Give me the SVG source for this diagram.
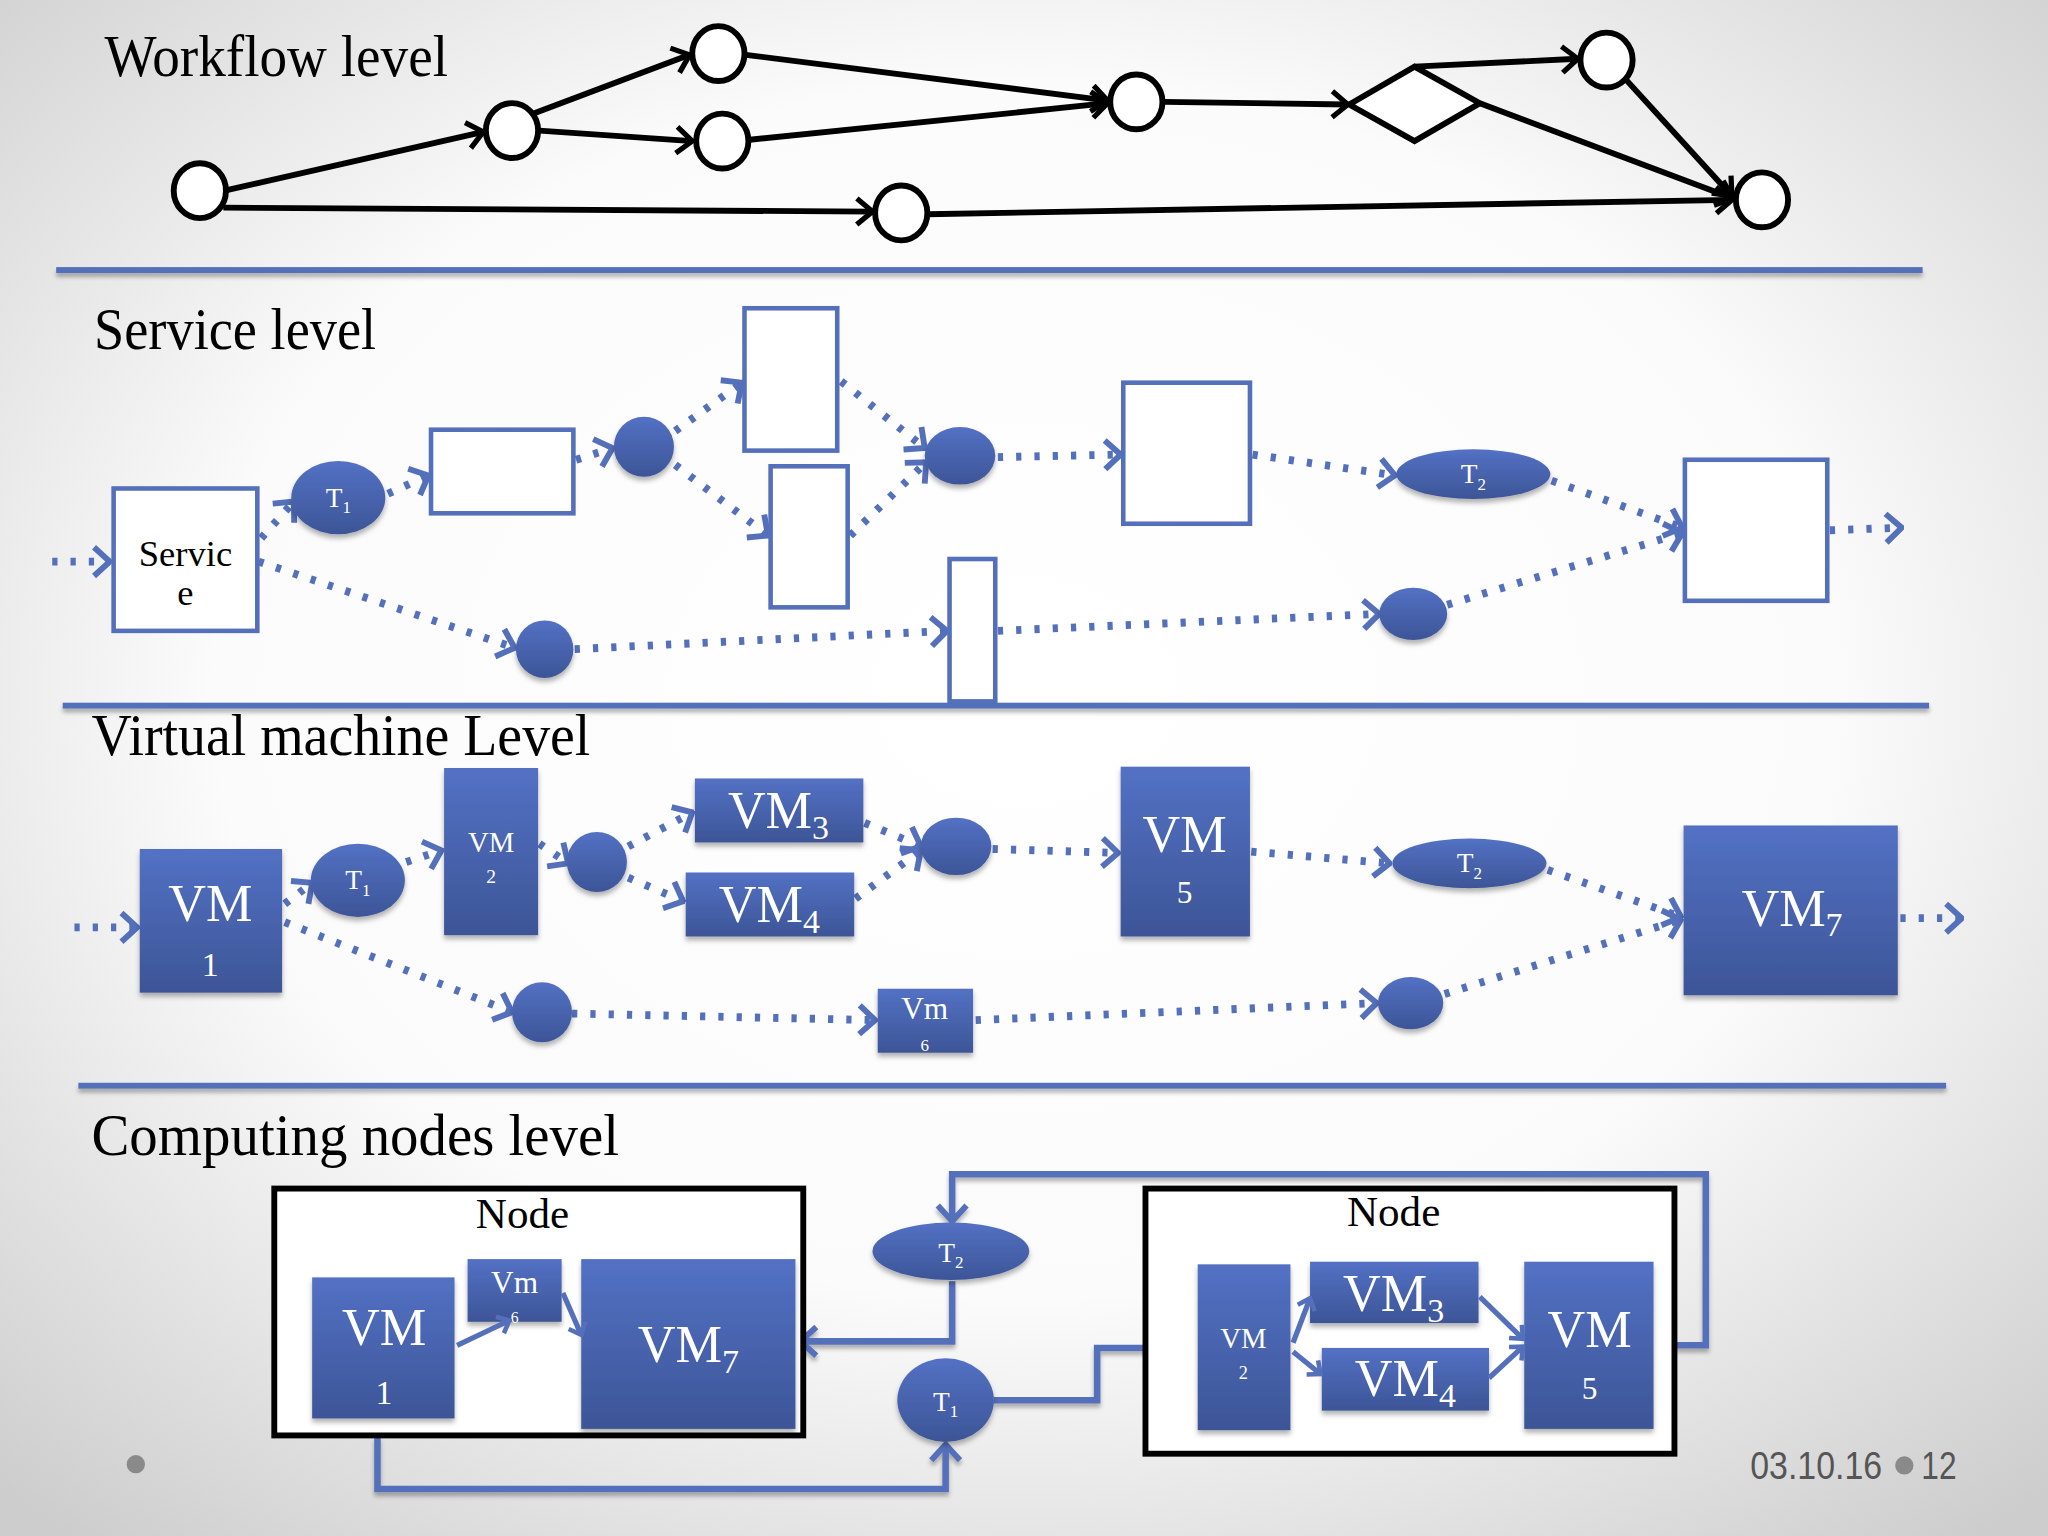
<svg xmlns="http://www.w3.org/2000/svg" width="2048" height="1536" viewBox="0 0 2048 1536">
<defs>
<radialGradient id="bg" cx="50%" cy="45%" r="72%">
<stop offset="0" stop-color="#ffffff"/>
<stop offset="0.55" stop-color="#fbfbfb"/>
<stop offset="1" stop-color="#cdcdcd"/>
</radialGradient>
<linearGradient id="bf" x1="0" y1="0" x2="0" y2="1">
<stop offset="0" stop-color="#5371C4"/>
<stop offset="1" stop-color="#3D5597"/>
</linearGradient>
<filter id="sh" x="-20%" y="-20%" width="140%" height="150%">
<feDropShadow dx="0" dy="3" stdDeviation="2" flood-color="#000" flood-opacity="0.3"/>
</filter>
<filter id="shl" filterUnits="userSpaceOnUse" x="0" y="0" width="1600" height="1200">
<feDropShadow dx="0" dy="3" stdDeviation="1.5" flood-color="#000" flood-opacity="0.3"/>
</filter>
<marker id="ab" viewBox="0 0 16 24" refX="14" refY="12" markerWidth="16" markerHeight="24" markerUnits="userSpaceOnUse" orient="auto">
<path d="M2,2 L14,12 L2,22" fill="none" stroke="#000" stroke-width="4"/>
</marker>
<marker id="ad" viewBox="0 0 16 26" refX="14" refY="13" markerWidth="16" markerHeight="26" markerUnits="userSpaceOnUse" orient="auto">
<path d="M2,2 L14,13 L2,24" fill="none" stroke="#5470BA" stroke-width="4.5"/>
</marker>
<marker id="as" viewBox="0 0 16 26" refX="14" refY="13" markerWidth="16" markerHeight="26" markerUnits="userSpaceOnUse" orient="auto">
<path d="M2,2 L14,13 L2,24" fill="none" stroke="#5470BA" stroke-width="4.5"/>
</marker>
<marker id="asm" viewBox="0 0 12 18" refX="10" refY="9" markerWidth="12" markerHeight="18" markerUnits="userSpaceOnUse" orient="auto">
<path d="M2,2 L10,9 L2,16" fill="none" stroke="#5470BA" stroke-width="3.5"/>
</marker>
<style>
.title{font-family:"Liberation Serif","Times New Roman",serif;font-size:46px;fill:#000}
.wn{fill:#fff;stroke:#000;stroke-width:4.5}
.we{fill:none;stroke:#000;stroke-width:4.5;marker-end:url(#ab)}
.sb{fill:#fff;stroke:#5470BA;stroke-width:3.5}
.bn{fill:url(#bf);filter:url(#sh)}
.dl{fill:none;stroke:#5470BA;stroke-width:6;stroke-dasharray:4 10;marker-end:url(#ad)}
.sl{fill:none;stroke:#5470BA;stroke-width:5;marker-end:url(#as);filter:url(#shl)}
.sm{fill:none;stroke:#5470BA;stroke-width:4;marker-end:url(#asm)}
.sep{fill:#5470BA;filter:url(#shl)}
.wt{font-family:"Liberation Serif","Times New Roman",serif;fill:#fff;text-anchor:middle}
.bt{font-family:"Liberation Serif","Times New Roman",serif;fill:#000;text-anchor:middle}
.nb{fill:#fff;stroke:#000;stroke-width:4.5}
.ft{font-family:"Liberation Sans",Arial,sans-serif;font-size:30px;fill:#555}
</style>
</defs>
<rect x="0" y="0" width="2048" height="1536" fill="url(#bg)"/>
<g transform="scale(1.306122)">
<g id="separators">
<rect class="sep" x="43" y="204.5" width="1429" height="4.5"/>
<rect class="sep" x="48" y="538" width="1429" height="4.5"/>
<rect class="sep" x="60" y="829" width="1430" height="4.5"/>
</g>
<g id="titles">
<text class="title" x="80" y="58" textLength="263" lengthAdjust="spacingAndGlyphs">Workflow level</text>
<text class="title" x="72" y="267" textLength="216" lengthAdjust="spacingAndGlyphs">Service level</text>
<text class="title" x="70" y="578" textLength="382" lengthAdjust="spacingAndGlyphs">Virtual machine Level</text>
<text class="title" x="70" y="884" textLength="404" lengthAdjust="spacingAndGlyphs">Computing nodes level</text>
</g>
<g id="connectors">
<path class="we" d="M172,146 L370,101"/>
<path class="we" d="M171,159 L668,162"/>
<path class="we" d="M408,87 L528,42"/>
<path class="we" d="M413,100 L530,108"/>
<path class="we" d="M571,42 L848,77"/>
<path class="we" d="M574,107 L848,79"/>
<path class="we" d="M891,78 L1032,80"/>
<path class="we" d="M1083,51 L1208,45"/>
<path class="we" d="M1133,79 L1327,152"/>
<path class="we" d="M1244,60 L1326,150"/>
<path class="we" d="M710,164 L1326,153"/>
<path class="dl" d="M40,430 L84,430"/>
<path class="dl" d="M200,412 L225,384"/>
<path class="dl" d="M297,378 L328,364"/>
<path class="dl" d="M441,352 L469,343"/>
<path class="dl" d="M517,330 L568,293"/>
<path class="dl" d="M517,356 L588,410"/>
<path class="dl" d="M644,292 L708,343"/>
<path class="dl" d="M651,410 L709,354"/>
<path class="dl" d="M764,350 L858,348"/>
<path class="dl" d="M959,348 L1068,364"/>
<path class="dl" d="M1188,368 L1288,404"/>
<path class="dl" d="M1401,406 L1456,404"/>
<path class="dl" d="M198,430 L394,496"/>
<path class="dl" d="M440,497 L725,483"/>
<path class="dl" d="M764,483 L1056,470"/>
<path class="dl" d="M1108,463 L1288,408"/>
<path class="dl" d="M57,710 L105,710"/>
<path class="dl" d="M218,692 L239,676"/>
<path class="dl" d="M311,660 L338,651"/>
<path class="dl" d="M413,646 L435,661"/>
<path class="dl" d="M481,648 L530,622"/>
<path class="dl" d="M481,672 L523,690"/>
<path class="dl" d="M662,630 L705,648"/>
<path class="dl" d="M655,688 L705,651"/>
<path class="dl" d="M760,650 L856,653"/>
<path class="dl" d="M958,652 L1064,661"/>
<path class="dl" d="M1185,666 L1287,702"/>
<path class="dl" d="M1455,703 L1502,703"/>
<path class="dl" d="M218,706 L392,775"/>
<path class="dl" d="M438,776 L670,781"/>
<path class="dl" d="M747,781 L1054,768"/>
<path class="dl" d="M1106,761 L1287,704"/>
<path class="sl" d="M289,1100 L289,1140 L724,1140 L724,1106"/>
<path class="sl" d="M761,1072 L840,1072 L840,1032 L915,1032"/>
<path class="sl" d="M1266,1030 L1306,1030 L1306,899 L729,899 L729,935"/>
<path class="sl" d="M729,981 L729,1027 L613,1027"/>
</g>
<g id="wf-a"><ellipse class="wn" cx="153" cy="146" rx="20" ry="21"/></g>
<g id="wf-b"><ellipse class="wn" cx="392" cy="100" rx="20" ry="21"/></g>
<g id="wf-c"><ellipse class="wn" cx="550" cy="41" rx="20" ry="21"/></g>
<g id="wf-d"><ellipse class="wn" cx="553" cy="108" rx="20" ry="21"/></g>
<g id="wf-e"><ellipse class="wn" cx="690" cy="163" rx="20" ry="21"/></g>
<g id="wf-f"><ellipse class="wn" cx="870" cy="78" rx="20" ry="21"/></g>
<g id="wf-gate"><polygon class="wn" points="1033,80 1083,51 1133,79 1083,108"/></g>
<g id="wf-g"><ellipse class="wn" cx="1230" cy="46" rx="20" ry="21"/></g>
<g id="wf-h"><ellipse class="wn" cx="1349" cy="153" rx="20" ry="21"/></g>
<g id="sv-service"><rect class="sb" x="87" y="374" width="110" height="109"/>
<text class="bt" x="142" y="433" font-size="28">Servic</text>
<text class="bt" x="142" y="463" font-size="28">e</text></g>
<g id="sv-t1"><ellipse class="bn" cx="259" cy="381" rx="36" ry="28"/>
<text class="wt" x="259" y="388" font-size="21">T<tspan font-size="13" dy="5">1</tspan></text></g>
<g id="sv-r2"><rect class="sb" x="330" y="329" width="109" height="64"/></g>
<g id="sv-d1"><ellipse class="bn" cx="493" cy="342" rx="23" ry="23"/></g>
<g id="sv-r3"><rect class="sb" x="570" y="236" width="71" height="109"/></g>
<g id="sv-r4"><rect class="sb" x="590" y="357" width="59" height="108"/></g>
<g id="sv-d2"><ellipse class="bn" cx="735" cy="349" rx="27" ry="22"/></g>
<g id="sv-r5"><rect class="sb" x="860" y="293" width="97" height="108"/></g>
<g id="sv-t2"><ellipse class="bn" cx="1128" cy="363" rx="59" ry="19"/>
<text class="wt" x="1128" y="370" font-size="21">T<tspan font-size="13" dy="5">2</tspan></text></g>
<g id="sv-r6"><rect class="sb" x="1290" y="352" width="109" height="108"/></g>
<g id="sv-d3"><ellipse class="bn" cx="417" cy="497" rx="22" ry="22"/></g>
<g id="sv-r7"><rect class="sb" x="727" y="428" width="35" height="109"/></g>
<g id="sv-d4"><ellipse class="bn" cx="1082" cy="470" rx="26" ry="20"/></g>
<g id="vm-1"><rect class="bn" x="107" y="650" width="109" height="110"/>
<text class="wt" x="161" y="705" font-size="40">VM</text>
<text class="wt" x="161" y="747" font-size="26">1</text></g>
<g id="vm-t1"><ellipse class="bn" cx="274" cy="674" rx="36" ry="28"/>
<text class="wt" x="274" y="681" font-size="21">T<tspan font-size="13" dy="5">1</tspan></text></g>
<g id="vm-2"><rect class="bn" x="340" y="588" width="72" height="128"/>
<text class="wt" x="376" y="652" font-size="22">VM</text>
<text class="wt" x="376" y="676" font-size="15">2</text></g>
<g id="vm-d1"><ellipse class="bn" cx="457" cy="660" rx="23" ry="23"/></g>
<g id="vm-3"><rect class="bn" x="532" y="596" width="129" height="49"/>
<text class="wt" x="596" y="634" font-size="40">VM<tspan font-size="26" dy="8">3</tspan></text></g>
<g id="vm-4"><rect class="bn" x="525" y="668" width="129" height="49"/>
<text class="wt" x="589" y="706" font-size="40">VM<tspan font-size="26" dy="8">4</tspan></text></g>
<g id="vm-d2"><ellipse class="bn" cx="732" cy="648" rx="27" ry="22"/></g>
<g id="vm-5"><rect class="bn" x="858" y="587" width="99" height="130"/>
<text class="wt" x="907" y="652" font-size="40">VM</text>
<text class="wt" x="907" y="691" font-size="24">5</text></g>
<g id="vm-t2"><ellipse class="bn" cx="1125" cy="661" rx="59" ry="19"/>
<text class="wt" x="1125" y="668" font-size="21">T<tspan font-size="13" dy="5">2</tspan></text></g>
<g id="vm-7"><rect class="bn" x="1289" y="632" width="164" height="130"/>
<text class="wt" x="1372" y="709" font-size="40">VM<tspan font-size="26" dy="8">7</tspan></text></g>
<g id="vm-d3"><ellipse class="bn" cx="415" cy="775" rx="23" ry="23"/></g>
<g id="vm-6"><rect class="bn" x="672" y="757" width="73" height="49"/>
<text class="wt" x="708" y="780" font-size="24">Vm</text>
<text class="wt" x="708" y="805" font-size="13">6</text></g>
<g id="vm-d4"><ellipse class="bn" cx="1080" cy="768" rx="25" ry="20"/></g>
<g id="cn-node-left"><rect class="nb" x="210" y="910" width="405" height="189"/>
<text class="bt" x="400" y="940" font-size="33">Node</text></g>
<g id="cn-node-right"><rect class="nb" x="877" y="910" width="405" height="203"/>
<text class="bt" x="1067" y="939" font-size="33">Node</text></g>
<g id="cn-vm1"><rect class="bn" x="239" y="978" width="109" height="108"/>
<text class="wt" x="294" y="1030" font-size="40">VM</text>
<text class="wt" x="294" y="1075" font-size="26">1</text></g>
<g id="cn-vm6"><rect class="bn" x="358" y="964" width="72" height="48"/>
<text class="wt" x="394" y="990" font-size="24">Vm</text>
<text class="wt" x="394" y="1013" font-size="12">6</text></g>
<g id="cn-vm7"><rect class="bn" x="445" y="964" width="164" height="130"/>
<text class="wt" x="527" y="1043" font-size="40">VM<tspan font-size="26" dy="8">7</tspan></text></g>
<g id="cn-t2"><ellipse class="bn" cx="728" cy="958" rx="60" ry="22"/>
<text class="wt" x="728" y="966" font-size="21">T<tspan font-size="13" dy="5">2</tspan></text></g>
<g id="cn-t1"><ellipse class="bn" cx="724" cy="1072" rx="37" ry="32"/>
<text class="wt" x="724" y="1080" font-size="21">T<tspan font-size="13" dy="5">1</tspan></text></g>
<g id="cn-vm2"><rect class="bn" x="917" y="968" width="71" height="127"/>
<text class="wt" x="952" y="1032" font-size="22">VM</text>
<text class="wt" x="952" y="1056" font-size="14">2</text></g>
<g id="cn-vm3"><rect class="bn" x="1003" y="966" width="129" height="47"/>
<text class="wt" x="1067" y="1004" font-size="40">VM<tspan font-size="26" dy="8">3</tspan></text></g>
<g id="cn-vm4"><rect class="bn" x="1012" y="1032" width="128" height="48"/>
<text class="wt" x="1076" y="1069" font-size="40">VM<tspan font-size="26" dy="8">4</tspan></text></g>
<g id="cn-vm5"><rect class="bn" x="1167" y="966" width="99" height="128"/>
<text class="wt" x="1217" y="1031" font-size="40">VM</text>
<text class="wt" x="1217" y="1071" font-size="24">5</text></g>
<g id="cn-inner-connectors">
<path class="sm" d="M350,1030 L390,1011"/>
<path class="sm" d="M431,990 L445,1022"/>
<path class="sm" d="M990,1028 L1003,994"/>
<path class="sm" d="M990,1035 L1011,1052"/>
<path class="sm" d="M1133,993 L1166,1025"/>
<path class="sm" d="M1140,1055 L1166,1031"/>
</g>
<g id="footer">
<circle cx="104" cy="1121" r="7" fill="#8a8a8a"/>
<text class="ft" x="1340" y="1132" textLength="101" lengthAdjust="spacingAndGlyphs">03.10.16</text>
<circle cx="1458" cy="1122" r="7" fill="#8a8a8a"/>
<text class="ft" x="1471" y="1132" textLength="27" lengthAdjust="spacingAndGlyphs">12</text>
</g>
</g>
</svg>
